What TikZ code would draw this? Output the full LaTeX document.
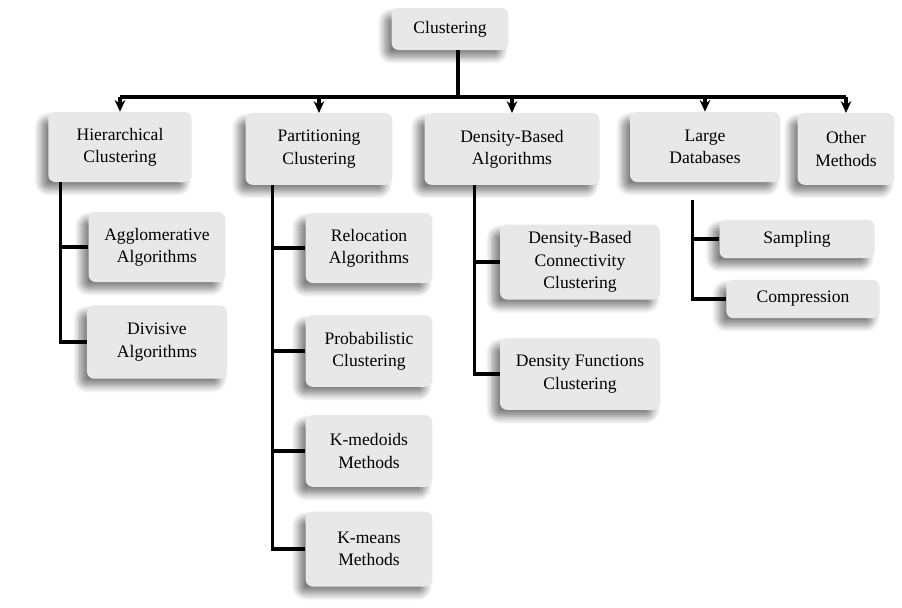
\documentclass[tikz,border=0pt]{standalone}
\usepackage{fontspec}
\setmainfont{Liberation Serif}
\usepackage{tikz}
\usetikzlibrary{arrows.meta}
\usetikzlibrary{calc}
\usetikzlibrary{shadows.blur}
\definecolor{kasten}{rgb}{0.91,0.91,0.91}

\begin{document}
\begin{tikzpicture}
     [
     x=0.03cm, y=-0.03cm,
     kasten/.style = {fill=kasten, rounded corners=6pt, align=center, inner sep=2pt,
       minimum width=4.2cm, minimum height=2.1cm,
       blur shadow={shadow xshift=-6pt, shadow yshift=-6pt, shadow blur steps=8, shadow blur radius=6pt, shadow opacity=50}},
     flach/.style = {kasten, minimum height=1.15cm},
     linie/.style = {draw, line width=2.6pt},
     pfeil/.style = {linie, -{Stealth[length=10pt,width=9pt]}}
     ]
     \fontsize{15}{19}\selectfont

     \useasboundingbox (0,0) rectangle (902,607);

    \draw (450,29) node[kasten,minimum width=3.5cm,minimum height=1.26cm] (cl) {Clustering}
               (120,147) node[kasten,minimum width=4.3cm] (hc) {Hierarchical\\Clustering}
               (319,149) node[kasten,minimum width=4.4cm,minimum height=2.15cm] (pc) {Partitioning\\Clustering}
               (512,149) node[kasten,minimum width=5.25cm,minimum height=2.15cm] (db) {Density-Based\\Algorithms}
               (705,147) node[kasten,minimum width=4.5cm] (ld) {Large\\Databases}
               (846,149) node[kasten,minimum width=2.9cm,minimum height=2.15cm] (om) {Other\\Methods}
     ;

    \draw (157,247) node[kasten,minimum width=4.1cm] (agg) {Agglomerative\\Algorithms}
               (157,342) node[kasten,minimum width=4.2cm,minimum height=2.2cm] (div) {Divisive\\Algorithms}
               (369,248) node[kasten,minimum width=3.8cm] (rel) {Relocation\\Algorithms}
               (369,351) node[kasten,minimum width=3.8cm,minimum height=2.15cm] (prob) {Probabilistic\\Clustering}
               (369,451) node[kasten,minimum width=3.8cm,minimum height=2.15cm] (kmed) {K-medoids\\Methods}
               (369,549) node[kasten,minimum width=3.8cm,minimum height=2.25cm] (kmea) {K-means\\Methods}
               (580,262) node[kasten,minimum width=4.8cm,minimum height=2.25cm] (dbc) {Density-Based\\Connectivity\\Clustering}
               (580,374) node[kasten,minimum width=4.8cm,minimum height=2.15cm] (dfc) {Density Functions\\Clustering}
               (797,239) node[flach,minimum width=4.65cm] (sam) {Sampling}
               (803,299) node[flach,minimum width=4.6cm] (com) {Compression}
     ;

     % Verteiler oben
     \coordinate (bus) at (458,97);
     \path[linie] (cl.south -| bus) -- (bus);
     \path[linie] (bus) -- (bus -| hc) (bus) -- (bus -| om);
     \path[pfeil] (bus -| hc) -- (hc);
     \path[pfeil] (bus -| pc) -- (pc);
     \path[pfeil] (bus -| db) -- (db);
     \path[pfeil] (bus -| ld) -- (ld);
     \path[pfeil] (bus -| om) -- (om);

     % Unterbaeume
     \coordinate (hcl) at ($(hc.south west)+(12,0)$);
     \path[linie] (hcl) |- (agg) (hcl) |- (div);
     \coordinate (pcl) at ($(pc.south west)+(27,0)$);
     \path[linie] (pcl) |- (rel) (pcl) |- (prob) (pcl) |- (kmed) (pcl) |- (kmea);
     \coordinate (dbl) at ($(db.south west)+(50,0)$);
     \path[linie] (dbl) |- (dbc) (dbl) |- (dfc);
     \coordinate (ldl) at ($(ld.south west)+(63,18)$);
     \path[linie] (ldl) |- (sam) (ldl) |- (com);
  \end{tikzpicture}
\end{document}
